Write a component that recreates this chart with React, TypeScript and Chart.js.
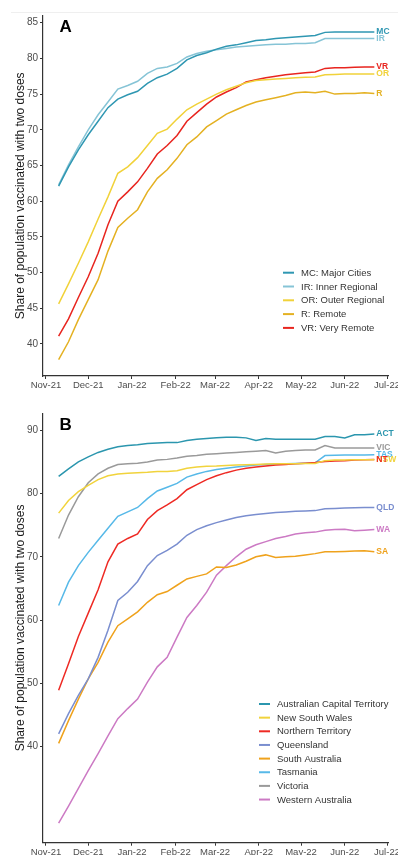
import React, { useEffect, useRef } from "react";
import { Chart, registerables } from "chart.js";

Chart.register(...registerables);

// ---------- DATA ----------
const weekDates = [
  "2021-11-10", "2021-11-17", "2021-11-24", "2021-12-01", "2021-12-08", "2021-12-15",
  "2021-12-22", "2021-12-29", "2022-01-05", "2022-01-12", "2022-01-19", "2022-01-26",
  "2022-02-02", "2022-02-09", "2022-02-16", "2022-02-23", "2022-03-02", "2022-03-09",
  "2022-03-16", "2022-03-23", "2022-03-30", "2022-04-06", "2022-04-13", "2022-04-20",
  "2022-04-27", "2022-05-04", "2022-05-11", "2022-05-18", "2022-05-25", "2022-06-01",
  "2022-06-08", "2022-06-15", "2022-06-22",
];

const monthTickDates = [
  "2021-11-01", "2021-12-01", "2022-01-01", "2022-02-01", "2022-03-01",
  "2022-04-01", "2022-05-01", "2022-06-01", "2022-07-01",
];
const monthTickLabels = ["Nov-21", "Dec-21", "Jan-22", "Feb-22", "Mar-22", "Apr-22", "May-22", "Jun-22", "Jul-22"];

const yTicksA = [40, 45, 50, 55, 60, 65, 70, 75, 80, 85];
const yTicksB = [40, 50, 60, 70, 80, 90];

// Panel A: remoteness
const remotenessCodes = ["MC", "IR", "OR", "R", "VR"];
const remotenessNames = ["MC: Major Cities", "IR: Inner Regional", "OR: Outer Regional", "R: Remote", "VR: Very Remote"];
const mcShare = [62.1, 64.8, 67.2, 69.3, 71.2, 73.1, 74.3, 74.9, 75.4, 76.5, 77.3, 77.8, 78.6, 79.8, 80.4, 80.8, 81.3, 81.7, 81.9, 82.2, 82.5, 82.6, 82.8, 82.9, 83.0, 83.1, 83.2, 83.65, 83.7, 83.7, 83.7, 83.7, 83.7];
const irShare = [62.3, 65.1, 67.6, 70.0, 72.1, 73.9, 75.7, 76.2, 76.8, 77.9, 78.6, 78.8, 79.3, 80.2, 80.7, 81.0, 81.2, 81.4, 81.6, 81.7, 81.8, 81.9, 82.0, 82.0, 82.1, 82.1, 82.2, 82.8, 82.8, 82.8, 82.8, 82.8, 82.8];
const orShare = [45.6, 48.4, 51.3, 54.3, 57.5, 60.6, 63.9, 64.8, 66.1, 67.8, 69.5, 70.1, 71.5, 72.8, 73.6, 74.3, 75.0, 75.6, 76.1, 76.6, 76.9, 77.0, 77.1, 77.2, 77.3, 77.35, 77.4, 77.7, 77.75, 77.8, 77.8, 77.8, 77.8];
const rShare = [37.8, 40.3, 43.4, 46.2, 49.0, 53.0, 56.3, 57.6, 58.8, 61.3, 63.2, 64.4, 66.0, 67.9, 69.0, 70.4, 71.3, 72.2, 72.8, 73.4, 73.9, 74.2, 74.5, 74.8, 75.2, 75.3, 75.2, 75.4, 75.0, 75.1, 75.1, 75.2, 75.1];
const vrShare = [41.1, 43.5, 46.5, 49.4, 52.7, 56.7, 60.0, 61.3, 62.7, 64.6, 66.6, 67.8, 69.2, 71.2, 72.4, 73.6, 74.6, 75.3, 75.9, 76.7, 77.0, 77.3, 77.5, 77.7, 77.85, 78.0, 78.1, 78.6, 78.7, 78.7, 78.75, 78.8, 78.8];
const remotenessColors = ["#2f97b2", "#86c4d6", "#f1d23a", "#e4b122", "#e8251f"];

// Panel B: states
const stateCodes = ["ACT", "NSW", "NT", "QLD", "SA", "TAS", "VIC", "WA"];
const stateNames = ["Australian Capital Territory", "New South Wales", "Northern Territory", "Queensland", "South Australia", "Tasmania", "Victoria", "Western Australia"];
const actShare = [82.7, 83.9, 85.0, 85.8, 86.5, 87.0, 87.4, 87.6, 87.7, 87.9, 88.0, 88.05, 88.05, 88.4, 88.6, 88.7, 88.8, 88.9, 88.9, 88.8, 88.4, 88.7, 88.6, 88.6, 88.6, 88.6, 88.6, 89.0, 89.0, 88.8, 89.3, 89.3, 89.4];
const nswShare = [76.9, 78.9, 80.3, 81.3, 82.2, 82.8, 83.1, 83.2, 83.3, 83.35, 83.5, 83.5, 83.6, 84.0, 84.2, 84.3, 84.35, 84.45, 84.5, 84.55, 84.6, 84.65, 84.7, 84.7, 84.7, 84.75, 84.75, 85.2, 85.3, 85.3, 85.35, 85.35, 85.35];
const ntShare = [48.9, 53.1, 57.4, 61.1, 64.8, 69.2, 72.0, 72.9, 73.6, 75.9, 77.3, 78.2, 79.2, 80.6, 81.4, 82.2, 82.8, 83.3, 83.7, 84.0, 84.2, 84.35, 84.5, 84.6, 84.7, 84.8, 84.9, 85.05, 85.15, 85.2, 85.3, 85.35, 85.4];
const qldShare = [42.0, 45.2, 48.1, 50.7, 54.1, 58.4, 63.1, 64.4, 66.1, 68.6, 70.2, 71.0, 72.0, 73.4, 74.3, 74.9, 75.4, 75.8, 76.2, 76.5, 76.7, 76.85, 77.0, 77.1, 77.2, 77.25, 77.3, 77.6, 77.65, 77.7, 77.75, 77.8, 77.8];
const saShare = [40.5, 44.1, 47.5, 50.7, 53.3, 56.5, 59.1, 60.2, 61.3, 62.8, 64.0, 64.5, 65.5, 66.5, 66.9, 67.3, 68.4, 68.3, 68.7, 69.3, 70.0, 70.3, 69.9, 70.0, 70.1, 70.3, 70.5, 70.8, 70.8, 70.85, 70.9, 70.95, 70.8];
const tasShare = [62.3, 66.0, 68.6, 70.7, 72.6, 74.5, 76.4, 77.1, 77.8, 79.2, 80.4, 81.0, 81.6, 82.6, 83.1, 83.5, 83.8, 84.0, 84.2, 84.35, 84.5, 84.6, 84.65, 84.7, 84.75, 84.8, 84.85, 86.0, 86.05, 86.1, 86.1, 86.1, 86.15];
const vicShare = [72.9, 76.6, 79.5, 81.7, 83.1, 84.0, 84.6, 84.7, 84.8, 85.0, 85.3, 85.4, 85.6, 85.9, 86.0, 86.2, 86.3, 86.4, 86.5, 86.6, 86.7, 86.8, 86.4, 86.7, 86.8, 86.9, 86.9, 87.6, 87.2, 87.2, 87.2, 87.2, 87.2];
const waShare = [27.9, 30.6, 33.4, 36.2, 38.9, 41.7, 44.4, 46.0, 47.5, 50.2, 52.6, 54.1, 57.3, 60.4, 62.3, 64.4, 67.1, 68.6, 70.0, 71.2, 71.9, 72.4, 72.9, 73.2, 73.6, 73.8, 73.9, 74.2, 74.3, 74.35, 74.1, 74.2, 74.3];
const stateColors = ["#2b96ae", "#f1d33c", "#ee2a24", "#7a8ecf", "#efa21c", "#57b9e8", "#9a9a9a", "#cc7ac4"];
// order in which end labels are painted (later ones on top)
const stateLabelOrder = ["ACT", "VIC", "TAS", "NSW", "NT", "QLD", "WA", "SA"];

// ---------- HELPERS ----------
const FONT = "'Liberation Sans', Arial, Helvetica, sans-serif";
const AXIS = "#333333";
const TICK = "#4d4d4d";
const DAY = 86400000;
const origin = Date.parse("2021-11-01T00:00:00Z");
const toDay = (s: string) => (Date.parse(s + "T00:00:00Z") - origin) / DAY;
const weekDays = weekDates.map(toDay);
const tickDays = monthTickDates.map(toDay);

type Series = { code: string; name: string; color: string; values: number[] };
type Panel = {
  letter: string;
  height: number;
  padTop: number;
  padBottom: number;
  xHeight: number;
  yMin: number;
  yMax: number;
  yTicks: number[];
  series: Series[];
  labelOrder: string[];
  legendX: number;
  legendY: number;
  legendStep: number;
};

function makeChart(canvas: HTMLCanvasElement, p: Panel) {
  const decor = {
    id: "decor" + p.letter,
    afterDatasetsDraw(chart: any) {
      const ctx = chart.ctx as CanvasRenderingContext2D;
      const area = chart.chartArea;
      ctx.save();
      // panel letter
      ctx.fillStyle = "#000";
      ctx.font = `bold 17px ${FONT}`;
      ctx.textAlign = "left";
      ctx.textBaseline = "alphabetic";
      ctx.fillText(p.letter, area.left + 16.5, area.top + (p.letter === "A" ? 16.5 : 17));
      // end labels
      ctx.font = `bold 8.5px ${FONT}`;
      ctx.textBaseline = "middle";
      p.labelOrder.forEach((code) => {
        const i = p.series.findIndex((s) => s.code === code);
        const meta = chart.getDatasetMeta(i);
        const last = meta.data[meta.data.length - 1];
        ctx.fillStyle = p.series[i].color;
        ctx.fillText(code, last.x + 2, last.y);
      });
      // legend
      ctx.font = `9.5px ${FONT}`;
      p.series.forEach((s, i) => {
        const y = p.legendY + i * p.legendStep;
        ctx.strokeStyle = s.color;
        ctx.lineWidth = 2;
        ctx.beginPath();
        ctx.moveTo(p.legendX, y);
        ctx.lineTo(p.legendX + 11, y);
        ctx.stroke();
        ctx.fillStyle = "#333";
        ctx.fillText(s.name, p.legendX + 18, y + 0.5);
      });
      ctx.restore();
    },
  };

  return new Chart(canvas, {
    type: "line",
    data: {
      datasets: p.series.map((s) => ({
        label: s.name,
        data: weekDays.map((d, i) => ({ x: d, y: s.values[i] })),
        borderColor: s.color,
        backgroundColor: s.color,
        borderWidth: 1.5,
        pointRadius: 0,
        tension: 0,
        fill: false,
      })),
    },
    options: {
      animation: false,
      responsive: false,
      maintainAspectRatio: false,
      events: [],
      layout: { padding: { left: 0, right: 10, top: p.padTop, bottom: p.padBottom } },
      plugins: { legend: { display: false }, tooltip: { enabled: false } },
      scales: {
        x: {
          type: "linear",
          min: -2.1,
          max: 242.7,
          afterBuildTicks: (s: any) => {
            s.ticks = tickDays.map((v) => ({ value: v }));
          },
          afterFit: (s: any) => {
            s.height = p.xHeight;
            s.paddingLeft = 0;
            s.paddingRight = 0;
          },
          ticks: {
            autoSkip: false,
            maxRotation: 0,
            minRotation: 0,
            padding: 1,
            color: TICK,
            font: { family: FONT, size: 9.5 },
            callback: (v: any) => {
              const i = tickDays.indexOf(Number(v));
              return i >= 0 ? monthTickLabels[i] : "";
            },
          },
          grid: { display: true, drawOnChartArea: false, drawTicks: true, tickLength: 3, color: AXIS, lineWidth: 1 },
          border: { display: true, color: AXIS, width: 1.2 },
        },
        y: {
          type: "linear",
          min: p.yMin,
          max: p.yMax,
          afterBuildTicks: (s: any) => {
            s.ticks = p.yTicks.map((v) => ({ value: v }));
          },
          afterFit: (s: any) => {
            s.width = 43;
            s.paddingTop = 0;
            s.paddingBottom = 0;
          },
          ticks: {
            padding: 2,
            color: TICK,
            font: { family: FONT, size: 10 },
          },
          title: {
            display: true,
            text: "Share of population vaccinated with two doses",
            color: "#1a1a1a",
            font: { family: FONT, size: 12 },
            padding: { top: 13, bottom: 0 },
          },
          grid: { display: true, drawOnChartArea: false, drawTicks: true, tickLength: 3, color: AXIS, lineWidth: 1 },
          border: { display: true, color: AXIS, width: 1.2 },
        },
      },
    } as any,
    plugins: [decor],
  } as any);
}

const panelA: Panel = {
  letter: "A",
  height: 400,
  padTop: 15.6,
  padBottom: 4,
  xHeight: 20,
  yMin: 35.5,
  yMax: 86.0,
  yTicks: yTicksA,
  series: remotenessCodes.map((c, i) => ({
    code: c,
    name: remotenessNames[i],
    color: remotenessColors[i],
    values: [mcShare, irShare, orShare, rShare, vrShare][i],
  })),
  labelOrder: ["R", "OR", "VR", "IR", "MC"],
  legendX: 283,
  legendY: 272.7,
  legendStep: 13.8,
};

const panelB: Panel = {
  letter: "B",
  height: 455,
  padTop: 13.2,
  padBottom: 0,
  xHeight: 12.3,
  yMin: 24.8,
  yMax: 92.7,
  yTicks: yTicksB,
  series: stateCodes.map((c, i) => ({
    code: c,
    name: stateNames[i],
    color: stateColors[i],
    values: [actShare, nswShare, ntShare, qldShare, saShare, tasShare, vicShare, waShare][i],
  })),
  labelOrder: stateLabelOrder,
  legendX: 259,
  legendY: 304,
  legendStep: 13.65,
};

function PanelChart({ panel, top }: { panel: Panel; top: number }) {
  const ref = useRef<HTMLCanvasElement | null>(null);
  useEffect(() => {
    if (!ref.current) return;
    const chart = makeChart(ref.current, panel);
    return () => chart.destroy();
  }, [panel]);
  return (
    <canvas
      ref={ref}
      width={398}
      height={panel.height}
      style={{ position: "absolute", left: 0, top, width: 398, height: panel.height, display: "block" }}
    />
  );
}

export default function App() {
  return (
    <div style={{ position: "absolute", left: 0, top: 0, width: 398, height: 855, background: "#fff", overflow: "hidden" }}>
      <div style={{ position: "absolute", left: 11, top: 12, width: 387, height: 1, background: "#efefef" }} />
      <PanelChart panel={panelA} top={0} />
      <PanelChart panel={panelB} top={400} />
    </div>
  );
}
